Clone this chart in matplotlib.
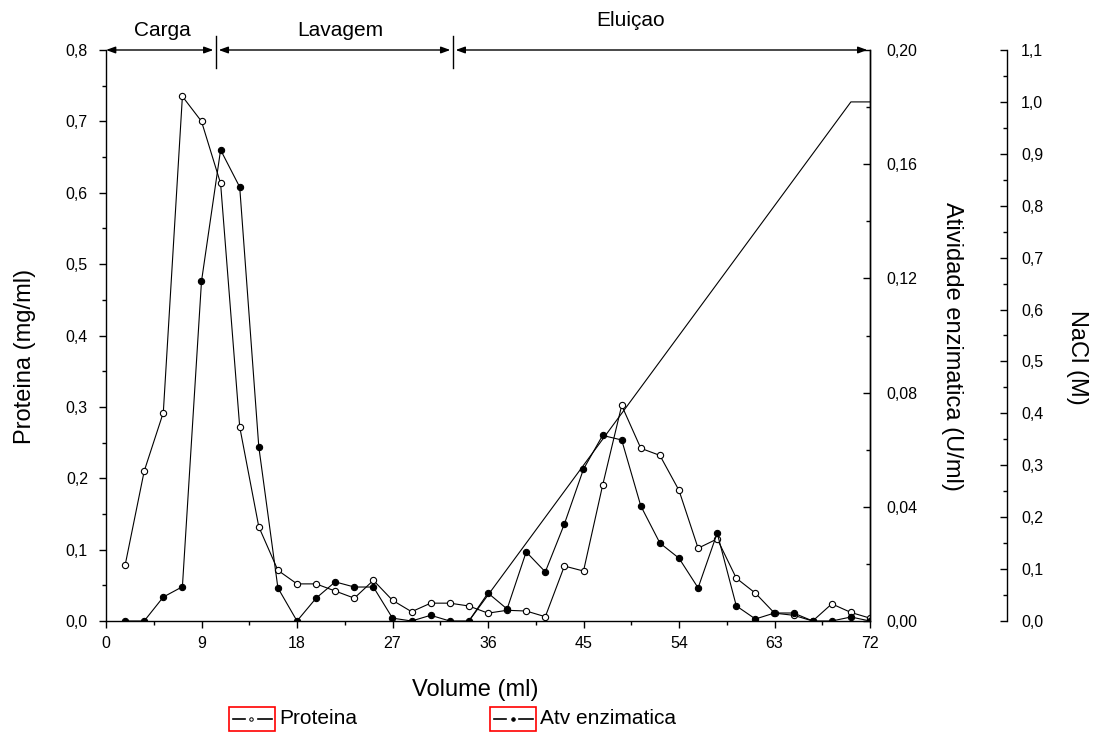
import matplotlib
matplotlib.use('Agg')
from matplotlib import pyplot as plt
from matplotlib.ticker import MultipleLocator, FuncFormatter
from matplotlib.lines import Line2D
from matplotlib.patches import Rectangle

plt.rcParams['font.family'] = ['Liberation Sans', 'DejaVu Sans']

volume = [1.8, 3.6, 5.4, 7.2, 9.0, 10.8, 12.6, 14.4, 16.2, 18.0,
          19.8, 21.6, 23.4, 25.2, 27.0, 28.8, 30.6, 32.4, 34.2, 36.0,
          37.8, 39.6, 41.4, 43.2, 45.0, 46.8, 48.6, 50.4, 52.2, 54.0,
          55.8, 57.6, 59.4, 61.2, 63.0, 64.8, 66.6, 68.4, 70.2, 72.0]

proteina = [0.078, 0.21, 0.292, 0.735, 0.70, 0.613, 0.272, 0.132, 0.071, 0.052,
            0.052, 0.042, 0.032, 0.057, 0.029, 0.013, 0.025, 0.025, 0.021, 0.011,
            0.015, 0.014, 0.006, 0.077, 0.07, 0.19, 0.302, 0.242, 0.232, 0.183,
            0.102, 0.115, 0.06, 0.039, 0.011, 0.008, 0.0, 0.024, 0.012, 0.004]

atividade = [0.0, 0.0, 0.0084, 0.012, 0.119, 0.165, 0.152, 0.061, 0.0116, 0.0,
             0.008, 0.0137, 0.0119, 0.0119, 0.001, 0.0, 0.002, 0.0, 0.0, 0.0098,
             0.0042, 0.0242, 0.0172, 0.034, 0.0532, 0.065, 0.0634, 0.0403, 0.0273, 0.022,
             0.0116, 0.0308, 0.0053, 0.0007, 0.0028, 0.0028, 0.0, 0.0, 0.0014, 0.0]

nacl_volume = [34.2, 70.2, 72.0]
nacl = [0.0, 1.0, 1.0]

# fases da cromatografia (inicio, fim, rotulo)
fases = [(0.0, 10.37, 'Carga'), (10.37, 32.7, 'Lavagem'), (32.7, 72.0, 'Eluiçao')]

W, H = 1101, 744
fig = plt.figure(figsize=(W / 100, H / 100), dpi=100)
ax = fig.add_axes([106 / W, 1 - 621 / H, 764 / W, 571 / H])
ax2 = ax.twinx()
ax3 = ax.twinx()
ax3.spines['right'].set_position(('axes', (1007 - 106) / 764))


def virgula(nd):
    return FuncFormatter(lambda v, p: f'{v:.{nd}f}'.replace('.', ','))


ax3.plot(nacl_volume, nacl, color='k', lw=0.8)
ax2.plot(volume, atividade, color='k', lw=0.8, marker='o', ms=4.5,
         mfc='k', mec='k', mew=0.8)
ax.plot(volume, proteina, color='k', lw=0.8, marker='o', ms=4.5,
        mfc='white', mec='k', mew=0.8)

ax.set_xlim(0, 72)
ax.set_ylim(0, 0.8)
ax2.set_ylim(0, 0.2)
ax3.set_ylim(0, 1.1)

ax.xaxis.set_major_locator(MultipleLocator(9))
ax.xaxis.set_minor_locator(MultipleLocator(4.5))
ax.yaxis.set_major_locator(MultipleLocator(0.1))
ax.yaxis.set_minor_locator(MultipleLocator(0.05))
ax.yaxis.set_major_formatter(virgula(1))
ax2.yaxis.set_major_locator(MultipleLocator(0.04))
ax2.yaxis.set_minor_locator(MultipleLocator(0.02))
ax2.yaxis.set_major_formatter(virgula(2))
ax3.yaxis.set_major_locator(MultipleLocator(0.1))
ax3.yaxis.set_minor_locator(MultipleLocator(0.05))
ax3.yaxis.set_major_formatter(virgula(1))

for a in (ax, ax2, ax3):
    a.spines['top'].set_visible(False)
    for s in a.spines.values():
        s.set_linewidth(1.0)
for a in (ax2, ax3):
    a.spines['left'].set_visible(False)
    a.spines['bottom'].set_visible(False)

ax.tick_params(axis='both', which='major', direction='out', length=5, width=1,
               labelsize=11.5, pad=6)
ax.tick_params(axis='both', which='minor', direction='out', length=3, width=1)
ax.tick_params(axis='y', pad=8)
ax2.tick_params(axis='y', which='major', direction='in', length=5, width=1,
                labelsize=11.5, pad=12)
ax2.tick_params(axis='y', which='minor', direction='in', length=3, width=1)
ax3.tick_params(axis='y', which='major', direction='in', length=5, width=1,
                labelsize=11.5, pad=10)
ax3.tick_params(axis='y', which='minor', direction='in', length=3, width=1)

# rotulos dos eixos
fig.text(25 / W, 1 - 356 / H, 'Proteina (mg/ml)', rotation=90, fontsize=17,
         ha='center', va='center')
fig.text(952 / W, 1 - 346 / H, 'Atividade enzimatica (U/ml)', rotation=270,
         fontsize=17, ha='center', va='center')
fig.text(1077 / W, 1 - 357 / H, 'NaCl (M)', rotation=270, fontsize=17,
         ha='center', va='center')
fig.text(475 / W, 1 - 690 / H, 'Volume (ml)', fontsize=17, ha='center', va='center')

# setas das fases no topo
rotulo_x = [162, 340, 631]
rotulo_y = [30, 30, 21]
for i, (x0, x1, nome) in enumerate(fases):
    g = 0.25 if i > 0 else 0.0
    ax.annotate('', xy=(x1 - 0.25, 0.8), xytext=(x0 + g, 0.8),
                xycoords='data', annotation_clip=False,
                arrowprops=dict(arrowstyle='<|-|>,head_length=0.55,head_width=0.2',
                                color='k', lw=1.0, shrinkA=0, shrinkB=0))
    fig.text(rotulo_x[i] / W, 1 - rotulo_y[i] / H, nome, fontsize=15,
             ha='center', va='center')
for xb in (10.37, 32.7):
    ax.plot([xb, xb], [0.775, 0.82], color='k', lw=1.0, clip_on=False)

# legenda com caixas vermelhas
for x0, txt, cheio in ((229, 'Proteina', False), (490, 'Atv enzimatica', True)):
    yc = 1 - 719 / H
    fig.add_artist(Rectangle((x0 / W, 1 - 731 / H), 46 / W, 24 / H, fill=False,
                             edgecolor='red', lw=1.2, transform=fig.transFigure))
    fig.add_artist(Line2D([(x0 + 4) / W, (x0 + 16) / W], [yc, yc], color='k', lw=1.2))
    fig.add_artist(Line2D([(x0 + 29) / W, (x0 + 43) / W], [yc, yc], color='k', lw=1.2))
    fig.add_artist(Line2D([(x0 + 22.5) / W], [yc], marker='o', ms=2.5,
                          mfc='k' if cheio else 'white', mec='k', mew=0.7))
    fig.text((x0 + 50) / W, yc, txt, fontsize=15, ha='left', va='center')

fig.savefig('out.png', dpi=100)
